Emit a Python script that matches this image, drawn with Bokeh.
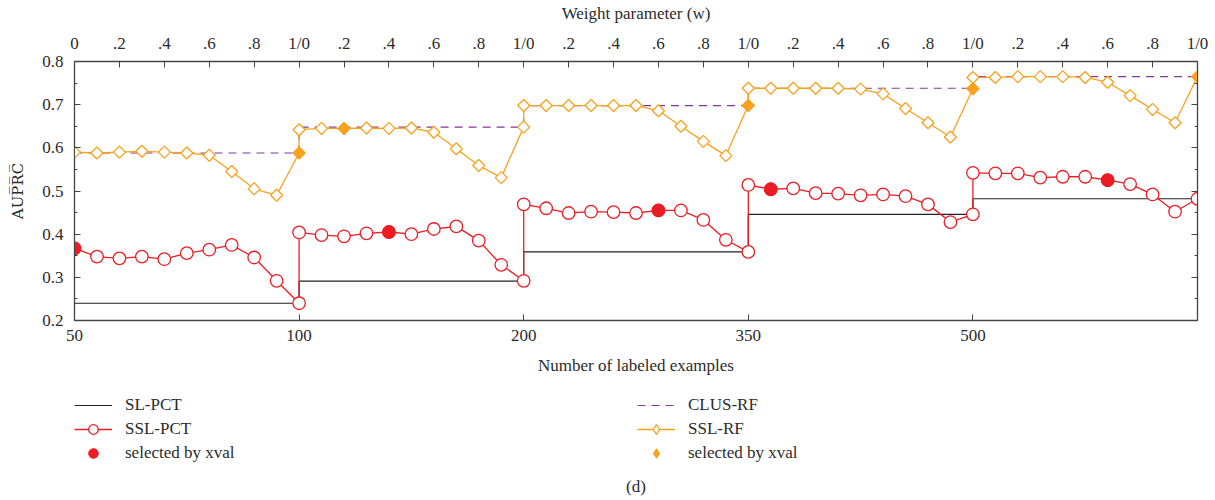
import numpy as np
from bokeh.plotting import figure
from bokeh.layouts import column
from bokeh.models import LinearAxis, FixedTicker, Range1d, Legend, LegendItem, Title
from bokeh.embed import file_html
from bokeh.resources import INLINE

# ---------------- data ----------------
n_labeled = ["50", "100", "200", "350", "500"]
w_values = [0.0, 0.1, 0.2, 0.3, 0.4, 0.5, 0.6, 0.7, 0.8, 0.9, 1.0]

sl_pct = [0.240, 0.291, 0.359, 0.446, 0.482]
clus_rf = [0.588, 0.648, 0.698, 0.738, 0.765]

ssl_pct_50 = [0.367, 0.348, 0.344, 0.348, 0.342, 0.356, 0.364, 0.375, 0.346, 0.292, 0.240]
ssl_pct_100 = [0.404, 0.398, 0.395, 0.402, 0.405, 0.400, 0.412, 0.418, 0.385, 0.329, 0.292]
ssl_pct_200 = [0.469, 0.460, 0.449, 0.452, 0.451, 0.449, 0.455, 0.455, 0.433, 0.387, 0.359]
ssl_pct_350 = [0.514, 0.504, 0.506, 0.495, 0.494, 0.490, 0.492, 0.488, 0.469, 0.428, 0.446]
ssl_pct_500 = [0.542, 0.541, 0.541, 0.531, 0.533, 0.533, 0.525, 0.516, 0.492, 0.452, 0.482]

ssl_rf_50 = [0.590, 0.588, 0.590, 0.592, 0.590, 0.588, 0.583, 0.545, 0.505, 0.490, 0.588]
ssl_rf_100 = [0.642, 0.645, 0.645, 0.646, 0.645, 0.646, 0.636, 0.598, 0.559, 0.531, 0.648]
ssl_rf_200 = [0.698, 0.698, 0.698, 0.698, 0.698, 0.698, 0.686, 0.650, 0.615, 0.582, 0.698]
ssl_rf_350 = [0.738, 0.738, 0.738, 0.738, 0.738, 0.736, 0.725, 0.691, 0.658, 0.625, 0.737]
ssl_rf_500 = [0.763, 0.763, 0.765, 0.765, 0.765, 0.763, 0.752, 0.721, 0.689, 0.658, 0.765]

# w selected by cross-validation in each block
ssl_pct_xval_w = [0.0, 0.4, 0.6, 0.1, 0.6]
ssl_rf_xval_w = [1.0, 0.2, 1.0, 1.0, 1.0]

ssl_pct = [ssl_pct_50, ssl_pct_100, ssl_pct_200, ssl_pct_350, ssl_pct_500]
ssl_rf = [ssl_rf_50, ssl_rf_100, ssl_rf_200, ssl_rf_350, ssl_rf_500]

# ---------------- derived coordinates ----------------
nb = len(n_labeled)
xs, pct_y, rf_y = [], [], []
for b in range(nb):
    for i, w in enumerate(w_values):
        xs.append(b + w)
        pct_y.append(ssl_pct[b][i])
        rf_y.append(ssl_rf[b][i])

pct_sel_x = [b + w for b, w in enumerate(ssl_pct_xval_w)]
pct_sel_y = [ssl_pct[b][w_values.index(w)] for b, w in enumerate(ssl_pct_xval_w)]
rf_sel_x = [b + w for b, w in enumerate(ssl_rf_xval_w)]
rf_sel_y = [ssl_rf[b][w_values.index(w)] for b, w in enumerate(ssl_rf_xval_w)]

bounds = list(range(nb + 1))

FONT = "Liberation Serif"
FS = "17px"
TXT = "#2b2b2b"
RED = "#ec1c24"
ORANGE = "#f6a21d"
PURPLE = "#84379a"
BLACK = "#222222"

p = figure(width=1215, height=382, x_range=Range1d(0, nb), y_range=Range1d(0.2, 0.8),
           output_backend="svg", toolbar_location=None,
           min_border_left=74, min_border_right=18, min_border_top=60, min_border_bottom=62)
p.xgrid.visible = False
p.ygrid.visible = False
p.outline_line_color = "#444444"
p.outline_line_width = 1.3

p.step(x=bounds, y=sl_pct + [sl_pct[-1]], mode="after", line_color=BLACK, line_width=1.2)
p.step(x=bounds, y=clus_rf + [clus_rf[-1]], mode="after", line_color=PURPLE,
       line_width=1.2, line_dash="8 6")
p.line(xs, rf_y, line_color=ORANGE, line_width=1.3)
p.scatter(xs, rf_y, marker="square", angle=np.pi / 4, size=8.5,
          fill_color="white", line_color=ORANGE, line_width=1.3)
p.line(xs, pct_y, line_color=RED, line_width=1.3)
p.scatter(xs, pct_y, marker="circle", size=12.5, fill_color="white", line_color=RED, line_width=1.3)
p.scatter(pct_sel_x, pct_sel_y, marker="circle", size=12.5, fill_color=RED, line_color=RED)
p.scatter(rf_sel_x, rf_sel_y, marker="square", angle=np.pi / 4, size=8.5,
          fill_color=ORANGE, line_color=ORANGE)

def style_axis(ax):
    ax.axis_line_color = "#444444"
    ax.major_tick_line_color = "#444444"
    ax.minor_tick_line_color = "#444444"
    ax.major_tick_out = 0
    ax.minor_tick_out = 0
    ax.major_label_text_font = FONT
    ax.major_label_text_font_size = FS
    ax.major_label_text_color = TXT
    ax.axis_label_text_font = FONT
    ax.axis_label_text_font_size = FS
    ax.axis_label_text_font_style = "normal"
    ax.axis_label_text_color = TXT

# bottom axis
xb = p.xaxis[0]
xb.ticker = FixedTicker(ticks=list(range(nb)))
xb.major_label_overrides = {i: lab for i, lab in enumerate(n_labeled)}
xb.axis_label = "Number of labeled examples"
style_axis(xb)
xb.major_tick_in = 6
xb.major_label_standoff = 9
xb.axis_label_standoff = 12

# left axis
yl = p.yaxis[0]
yticks = [0.2, 0.3, 0.4, 0.5, 0.6, 0.7, 0.8]
yminor = [0.25, 0.35, 0.45, 0.55, 0.65, 0.75]
yl.ticker = FixedTicker(ticks=yticks, minor_ticks=yminor)
yl.axis_label = "AUP\u0305R\u0305C\u0305"
style_axis(yl)
yl.axis_label_text_font = "DejaVu Serif"
yl.axis_label_text_font_size = "15px"
yl.major_tick_in = 6
yl.minor_tick_in = 3
yl.major_label_standoff = 11
yl.axis_label_standoff = 12

# right axis: ticks only
yr = LinearAxis(ticker=FixedTicker(ticks=yticks, minor_ticks=yminor))
style_axis(yr)
yr.major_tick_in = 6
yr.minor_tick_in = 3
yr.major_label_text_font_size = "1px"
yr.major_label_text_color = None
yr.major_label_standoff = 0
p.add_layout(yr, "right")

# top axis (weight parameter)
top_ticks = [b + w for b in range(nb) for w in w_values[0:10:2]] + [nb]
top_labels = {}
for t in top_ticks:
    frac = round(t - int(t), 1)
    if frac == 0:
        top_labels[t] = "0" if t == 0 else "1/0"
    else:
        top_labels[t] = "." + str(int(round(frac * 10)))
xt = LinearAxis(ticker=FixedTicker(ticks=top_ticks))
xt.major_label_overrides = top_labels
xt.axis_label = "Weight parameter (w)"
style_axis(xt)
xt.major_tick_in = 6
xt.major_label_standoff = 9
xt.axis_label_standoff = 8
p.add_layout(xt, "above")

# ---------------- legend panel ----------------
q = figure(width=1215, height=118, x_range=Range1d(0, 1), y_range=Range1d(0, 1),
           output_backend="svg", toolbar_location=None,
           x_axis_location=None, y_axis_location=None,
           min_border_left=74, min_border_right=18, min_border_top=11, min_border_bottom=0)
q.xgrid.visible = False
q.ygrid.visible = False
q.outline_line_color = None

# legend keys (kept outside the visible range of this panel)
kx, ky = [-1.0], [-1.0]
l_sl = q.line(kx, ky, line_color=BLACK, line_width=1.2)
l_pct_line = q.line(kx, ky, line_color=RED, line_width=1.3)
l_pct_pts = q.scatter(kx, ky, marker="circle", fill_color="white", line_color=RED, line_width=1.3)
l_pct_sel = q.scatter(kx, ky, marker="circle", fill_color=RED, line_color=RED)
l_clus = q.line(kx, ky, line_color=PURPLE, line_width=1.2, line_dash="8 6")
l_rf_line = q.line(kx, ky, line_color=ORANGE, line_width=1.3)
l_rf_pts = q.scatter(kx, ky, marker="diamond", fill_color="white", line_color=ORANGE, line_width=1.3)
l_rf_sel = q.scatter(kx, ky, marker="diamond", fill_color=ORANGE, line_color=ORANGE)

items = [
    LegendItem(label="SL-PCT", renderers=[l_sl]),
    LegendItem(label="SSL-PCT", renderers=[l_pct_line, l_pct_pts]),
    LegendItem(label="selected by xval", renderers=[l_pct_sel]),
    LegendItem(label="CLUS-RF", renderers=[l_clus]),
    LegendItem(label="SSL-RF", renderers=[l_rf_line, l_rf_pts]),
    LegendItem(label="selected by xval", renderers=[l_rf_sel]),
]
legend = Legend(items=items, orientation="vertical", nrows=3, location="top_left",
                glyph_width=38, glyph_height=24, label_height=24, label_standoff=13, label_width=512,
                spacing=0, padding=0, margin=0,
                label_text_font=FONT, label_text_font_size=FS, label_text_color=TXT,
                border_line_color=None, background_fill_alpha=0)
q.add_layout(legend, "center")

cap = Title(text="(d)", align="center", text_font=FONT, text_font_size=FS,
            text_font_style="normal", text_color=TXT)
q.add_layout(cap, "below")

layout = column(p, q, spacing=0)
open("out.html", "w").write(file_html(layout, INLINE))
